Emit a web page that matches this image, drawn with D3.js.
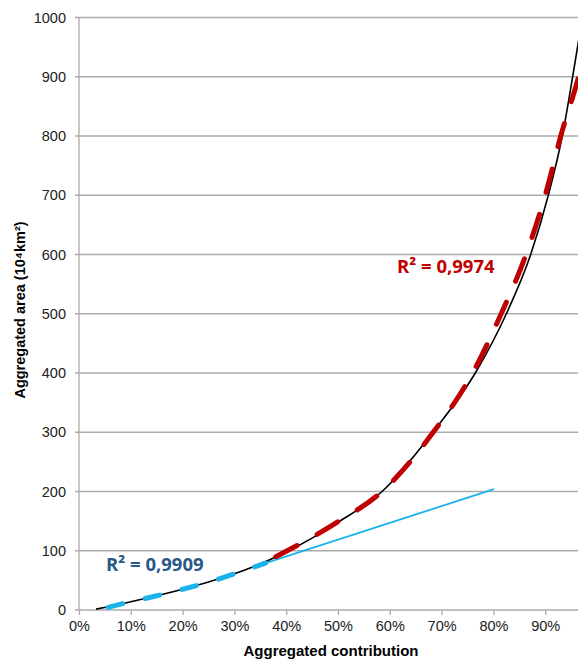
<!DOCTYPE html>
<html>
<head>
<meta charset="utf-8">
<script src="https://cdn.jsdelivr.net/npm/d3@7"></script>
<style>
  body { margin: 0; background: #fff; }
  svg { display: block; }
</style>
</head>
<body>
<svg id="graph"></svg>
<script>
    var w = 578;
    var h = 661;
    var plotLeft = 79;
    var plotTop = 17.5;
    var plotBottom = 610;

    // observed curve: [aggregated contribution %, aggregated area]
    var observed = [[3.3, 1.5], [10, 14], [20, 35], [30, 61], [40, 98], [50, 148],
                    [58.5, 200], [68.3, 300], [76.5, 400], [82.5, 500], [87.2, 600],
                    [90.6, 700], [93.3, 800], [95.3, 900], [96.9, 985]];
    // upper fit (red dashed)
    var upperFit = [[38, 90], [40, 99], [50, 149], [58.5, 200], [68.3, 299], [76, 400],
                    [81.5, 500], [86.3, 600], [90, 700], [93, 800], [96.3, 895], [98, 950]];
    // lower fit (blue dashed)
    var lowerFit = [[4.5, 2], [10, 14], [15, 24], [20, 35], [25, 47], [30, 61], [36, 79]];
    // linear extension (thin blue)
    var linearFit = [[36, 79], [80.1, 204]];

    var yTicks = [0, 100, 200, 300, 400, 500, 600, 700, 800, 900, 1000];
    var xTicks = [0, 10, 20, 30, 40, 50, 60, 70, 80, 90];
    var r2Upper = "R² = 0,9974";
    var r2Lower = "R² = 0,9909";

    var x = d3.scaleLinear().domain([0, 100]).range([plotLeft, plotLeft + 518]);
    var y = d3.scaleLinear().domain([0, 1000]).range([plotBottom, plotTop]);

    var svg2 = d3.select("#graph").attr("width", w).attr("height", h);

    var line = d3.line()
        .x(function(d){ return x(d[0]); })
        .y(function(d){ return y(d[1]); })
        .curve(d3.curveMonotoneX);

    // gridlines
    svg2.append("g")
        .selectAll("line")
        .data(yTicks)
        .enter()
        .append("line")
        .attr("x1", plotLeft - 4)
        .attr("x2", w)
        .attr("y1", function(d){ return y(d); })
        .attr("y2", function(d){ return y(d); })
        .style("stroke", "#ababab")
        .style("stroke-width", 1.3);

    // y axis line
    svg2.append("line")
        .attr("x1", plotLeft).attr("x2", plotLeft)
        .attr("y1", plotTop).attr("y2", plotBottom)
        .style("stroke", "#ababab")
        .style("stroke-width", 1.3);

    // y labels
    svg2.append("g")
        .selectAll("text")
        .data(yTicks)
        .enter()
        .append("text")
        .attr("x", plotLeft - 13)
        .attr("y", function(d){ return y(d) + 5; })
        .attr("text-anchor", "end")
        .style("font-family", "Liberation Sans, Arial, sans-serif")
        .style("font-size", "14.5px")
        .style("fill", "#222")
        .text(function(d){ return d; });

    // x ticks and labels
    var xAxis = d3.axisBottom(x)
        .tickValues(xTicks)
        .tickSize(5)
        .tickFormat(function(d){ return d + "%"; });

    var gx = svg2.append("g")
        .attr("transform", "translate(0," + plotBottom + ")")
        .call(xAxis);
    gx.select(".domain").remove();
    gx.selectAll(".tick line")
        .style("stroke", "#ababab")
        .style("stroke-width", 1.3);
    gx.selectAll(".tick text")
        .attr("y", 11)
        .style("font-family", "Liberation Sans, Arial, sans-serif")
        .style("font-size", "14.5px")
        .style("fill", "#222");

    // thin blue linear line
    svg2.append("path")
        .datum(linearFit)
        .attr("d", line)
        .style("fill", "none")
        .style("stroke", "#1ab2ea")
        .style("stroke-width", 1.8);

    // observed black curve
    svg2.append("path")
        .datum(observed)
        .attr("d", line)
        .style("fill", "none")
        .style("stroke", "#000")
        .style("stroke-width", 1.6);

    // blue dashed fit
    svg2.append("path")
        .datum(lowerFit)
        .attr("d", line)
        .style("fill", "none")
        .style("stroke", "#1ab2ea")
        .style("stroke-width", 5)
        .style("stroke-linecap", "round")
        .style("stroke-dasharray", "15,23")
        .style("stroke-dashoffset", -6);

    // red dashed fit
    svg2.append("path")
        .datum(upperFit)
        .attr("d", line)
        .style("fill", "none")
        .style("stroke", "#c00000")
        .style("stroke-width", 5)
        .style("stroke-linecap", "round")
        .style("stroke-dasharray", "24,23");

    // R² labels
    svg2.append("text")
        .attr("x", 397)
        .attr("y", 273)
        .style("font-family", "Open Sans, sans-serif")
        .style("font-weight", "bold")
        .style("font-size", "18.5px")
        .style("fill", "#c00000")
        .text(r2Upper);

    svg2.append("text")
        .attr("x", 106)
        .attr("y", 571)
        .style("font-family", "Open Sans, sans-serif")
        .style("font-weight", "bold")
        .style("font-size", "18.5px")
        .style("fill", "#2a5788")
        .text(r2Lower);

    // axis titles
    svg2.append("text")
        .attr("x", 331)
        .attr("y", 656)
        .attr("text-anchor", "middle")
        .style("font-family", "Liberation Sans, Arial, sans-serif")
        .style("font-weight", "bold")
        .style("font-size", "15px")
        .style("fill", "#000")
        .text("Aggregated contribution");

    svg2.append("text")
        .attr("transform", "translate(25,310) rotate(-90)")
        .attr("text-anchor", "middle")
        .style("font-family", "Liberation Sans, Arial, sans-serif")
        .style("font-weight", "bold")
        .style("font-size", "14.5px")
        .style("fill", "#000")
        .text("Aggregated area (10⁴km²)");
</script>
</body>
</html>
